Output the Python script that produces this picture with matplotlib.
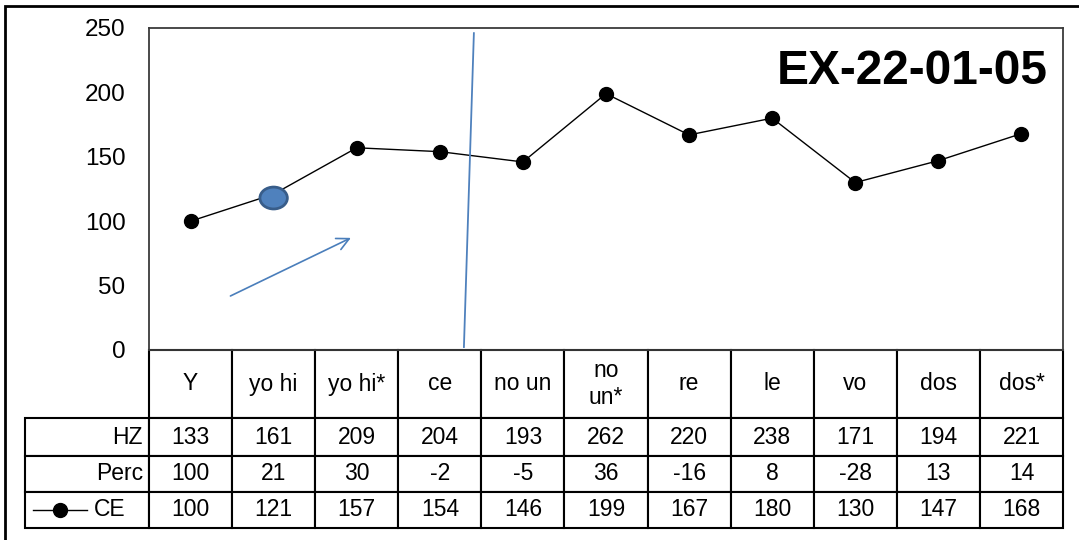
import matplotlib
matplotlib.use("Agg")
import matplotlib.pyplot as plt
from matplotlib.patches import Ellipse, Rectangle
from matplotlib.lines import Line2D

plt.rcParams['font.family'] = ['Liberation Sans', 'DejaVu Sans']

# data
categories = ["Y", "yo hi", "yo hi*", "ce", "no un", "no\nun*", "re", "le", "vo", "dos", "dos*"]
hz = [133, 161, 209, 204, 193, 262, 220, 238, 171, 194, 221]
perc = [100, 21, 30, -2, -5, 36, -16, 8, -28, 13, 14]
ce = [100, 121, 157, 154, 146, 199, 167, 180, 130, 147, 168]
yticks = [0, 50, 100, 150, 200, 250]
title = "EX-22-01-05"

W, H = 1079, 540
fig = plt.figure(figsize=(W / 100, H / 100), dpi=100)

# plot area in pixels (left, top, right, bottom)
pl, pt, pr, pb = 149, 28, 1063, 350
ax = fig.add_axes([pl / W, 1 - pb / H, (pr - pl) / W, (pb - pt) / H])

x = list(range(len(ce)))
ax.plot(x, ce, color="black", lw=1.0, marker="o", ms=10, zorder=3)
ax.set_xlim(-0.5, len(ce) - 0.5)
ax.set_ylim(0, 250)
ax.set_yticks(yticks)
ax.set_xticks([])
ax.tick_params(axis="y", length=0, pad=17, labelsize=17.5)
for s in ax.spines.values():
    s.set_color("#3a3a3a")
    s.set_linewidth(1.3)

# title inside the plot area
ax.text(0.983, 0.865, title, transform=ax.transAxes, ha="right", va="center",
        fontsize=34.5, fontweight="bold")

# blue annotations drawn on top of the chart
ax.add_patch(Ellipse((1, 118), 0.33, 17, facecolor="#4F81BD", edgecolor="#385D8A",
                     lw=2, zorder=5))
ax.annotate("", xy=(1.96, 88), xytext=(0.45, 41),
            arrowprops=dict(arrowstyle="->", color="#4A7EBB", lw=1.2, mutation_scale=22))
ax.plot([3.41, 3.29], [246, 2.3], color="#4F81BD", lw=1.3, zorder=4)

# data table under the plot
tl, tb = 25, 528
col_w = [pl - tl] + [(pr - pl) / len(ce)] * len(ce)
rows = [["HZ"] + [str(v) for v in hz],
        ["Perc"] + [str(v) for v in perc],
        ["CE"] + [str(v) for v in ce]]
bbox = [(tl - pl) / (pr - pl), (pb - tb) / (pb - pt),
        (pr - tl) / (pr - pl), (tb - pb) / (pb - pt)]
tab = ax.table(cellText=rows, colLabels=[""] + categories, colWidths=col_w,
               cellLoc="center", colLoc="center", bbox=bbox)
tab.auto_set_font_size(False)
tab.set_fontsize(16.5)
row_h = [68, 38, 36, 36]
for (r, c), cell in tab.get_celld().items():
    cell.set_height(row_h[r])
    cell.set_edgecolor("black")
    cell.set_linewidth(1.5)
    if c == 0:
        cell.get_text().set_horizontalalignment("right")
        cell.PAD = 0.05
tab[(0, 0)].visible_edges = "open"
tab[(3, 0)].PAD = 0.19

# legend key in the CE row label
key_y = (pb - 510) / (pb - pt)
ax.add_line(Line2D([(33 - pl) / (pr - pl), (60 - pl) / (pr - pl), (87 - pl) / (pr - pl)],
                   [key_y] * 3, transform=ax.transAxes, color="black", lw=1.0,
                   marker="o", ms=10, markevery=[1], clip_on=False, zorder=6))

# outer frame of the picture
fig.patches.append(Rectangle((5 / W, -0.1), 1.2, 1.1 - 6 / H, transform=fig.transFigure,
                             fill=False, edgecolor="black", lw=2))

fig.savefig("out.png", dpi=100)
